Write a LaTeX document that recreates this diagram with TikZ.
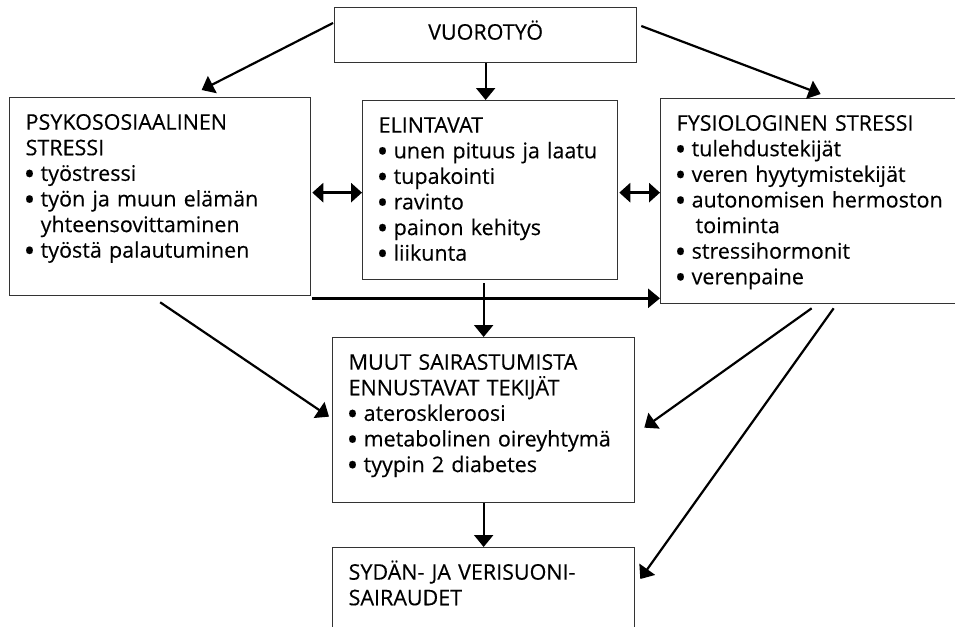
\documentclass[tikz,border=0pt]{standalone}
\usepackage{fontspec}
\setmainfont{Open Sans}[UprightFeatures={FakeBold=0.3}]
\usetikzlibrary{arrows.meta, calc}

\newcommand{\bul}{\makebox[15pt][l]{\hspace{-2pt}\smash{\raisebox{-4pt}{\scalebox{1.45}{\textbullet}}}}}
\newcommand{\ind}{\hspace{15pt}}

\begin{document}
\begin{tikzpicture}[
    x=1pt, y=-1pt,
    font=\fontsize{21.5}{25.6}\selectfont,
    >={Triangle[length=12pt, width=19pt]},
    box/.style={
        draw=black!80, line width=1.3pt,
        rectangle, anchor=north west,
        inner xsep=16pt, inner ysep=0pt,
        text height=32pt, align=left
    },
    arrow/.style={->, line width=2.2pt},
    both/.style={<->, line width=2.8pt, >={Triangle[length=11pt, width=19pt]}}
]
\useasboundingbox (0,0) rectangle (955,626);

% Boxes
\node[box, text width=270pt, text depth=23pt, align=center] (vuoro) at (334,7) {VUOROTYÖ};
\node[box, text width=269pt, text depth=166pt] (psy) at (9,97)
    {PSYKOSOSIAALINEN\\STRESSI\\\bul työstressi\\\bul työn ja muun elämän\\\ind yhteensovittaminen\\\bul työstä palautuminen};
\node[box, text width=223pt, text depth=147pt] (elin) at (362,100)
    {ELINTAVAT\\\bul unen pituus ja laatu\\\bul tupakointi\\\bul ravinto\\\bul painon kehitys\\\bul liikunta};
\node[box, text width=268pt, text depth=173pt] (fys) at (660,98)
    {FYSIOLOGINEN STRESSI\\\bul tulehdustekijät\\\bul veren hyytymistekijät\\\bul autonomisen hermoston\\\ind\hspace{4pt}toiminta\\\bul stressihormonit\\\bul verenpaine};
\node[box, text width=270pt, text depth=133pt] (muut) at (332,337)
    {MUUT SAIRASTUMISTA\\ENNUSTAVAT TEKIJÄT\\\bul ateroskleroosi\\\bul metabolinen oireyhtymä\\\bul tyypin 2 diabetes};
\node[box, text width=270pt, text depth=133pt] (syd) at (332,547)
    {SYDÄN- JA VERISUONI-\\SAIRAUDET};

% Arrows from the top box
\draw[arrow] ($(vuoro.north west)+(-1,16)$) -- ($(psy.north)+(41.5,-7)$);
\draw[arrow] (vuoro.south) -- (vuoro.south |- elin.north);
\draw[arrow] ($(vuoro.north east)+(4,19)$) -- ($(fys.north)+(10,-4)$);

% Two-way links
\coordinate (pe) at ($(psy.east)+(1,-4)$);
\coordinate (ee) at ($(elin.east)+(1,2.5)$);
\draw[both] (pe) -- (pe -| elin.west);
\draw[both] (ee) -- (ee -| fys.west);

% Lower links
\coordinate (ps) at ($(psy.south east)+(1,2)$);
\draw[arrow, line width=2.8pt] (ps) -- (ps -| fys.west);
\draw[arrow] ($(muut.north |- elin.south)+(0,3)$) -- (muut.north);
\draw[arrow] ($(psy.south)+(0,6)$) -- ($(muut.west)+(-3,-3.5)$);
\draw[arrow] ($(fys.south)+(1,4)$) -- ($(muut.east)+(9,7.5)$);
\draw[arrow] ($(fys.south)+(23,4)$) -- ($(syd.north east)+(5,32)$);
\draw[arrow] (muut.south) -- (syd.north);

\end{tikzpicture}
\end{document}
